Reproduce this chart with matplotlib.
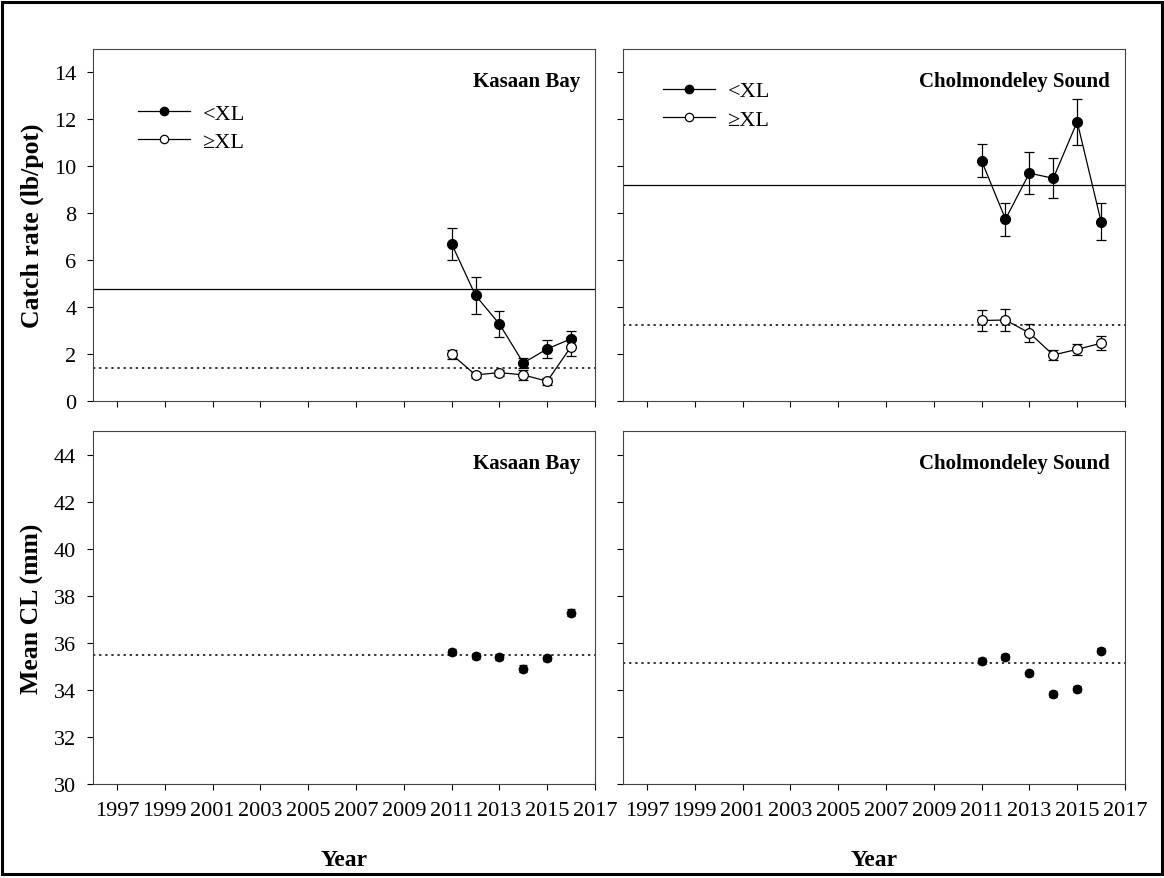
import numpy as np
import matplotlib
matplotlib.use("Agg")
import matplotlib.pyplot as plt
from matplotlib.patches import Rectangle
from matplotlib.lines import Line2D

plt.rcParams['font.family'] = ['Liberation Serif', 'DejaVu Serif']

# survey years
years = [2011, 2012, 2013, 2014, 2015, 2016]

# catch rate (lb/pot), Kasaan Bay
kb_small = [6.70, 4.50, 3.28, 1.62, 2.22, 2.65]
kb_small_err = [0.68, 0.78, 0.55, 0.20, 0.38, 0.33]
kb_large = [1.99, 1.11, 1.21, 1.11, 0.84, 2.32]
kb_large_err = [0.20, 0.14, 0.13, 0.20, 0.15, 0.42]
kb_small_mean = 4.79
kb_large_mean = 1.41

# catch rate (lb/pot), Cholmondeley Sound
cs_small = [10.24, 7.75, 9.71, 9.49, 11.90, 7.64]
cs_small_err = [0.70, 0.70, 0.88, 0.85, 0.99, 0.78]
cs_large = [3.43, 3.45, 2.90, 1.96, 2.20, 2.46]
cs_large_err = [0.44, 0.47, 0.39, 0.22, 0.24, 0.30]
cs_small_mean = 9.22
cs_large_mean = 3.23

# mean carapace length (mm)
kb_cl = [35.60, 35.45, 35.40, 34.90, 35.35, 37.27]
kb_cl_err = [0.12, 0.12, 0.12, 0.15, 0.12, 0.15]
kb_cl_mean = 35.50
cs_cl = [35.24, 35.41, 34.70, 33.82, 34.05, 35.67]
cs_cl_err = [0.12, 0.12, 0.12, 0.12, 0.12, 0.12]
cs_cl_mean = 35.13

xticks = list(range(1997, 2018, 2))

fig = plt.figure(figsize=(11.64, 8.79), dpi=100)

# outer frame
fig.patches.append(Rectangle((0.002, 0.004), 0.996, 0.993, transform=fig.transFigure,
                             fill=False, edgecolor='black', linewidth=2.2))

lx, rx, w = 0.0799, 0.5352, 0.4313
ax_tl = fig.add_axes([lx, 0.5427, w, 0.4004])
ax_tr = fig.add_axes([rx, 0.5427, w, 0.4004])
ax_bl = fig.add_axes([lx, 0.1069, w, 0.4016])
ax_br = fig.add_axes([rx, 0.1069, w, 0.4016])

lw = 0.9
ebkw = dict(elinewidth=lw, capsize=3.8, capthick=lw, ecolor='black')
dotted = (0, (1.5, 2.5))


def style(ax, ylim, yticks, ylabels, xlabels):
    ax.set_xlim(1996, 2017)
    ax.set_ylim(*ylim)
    ax.set_xticks(xticks)
    ax.set_yticks(yticks)
    ax.tick_params(direction='out', length=4, width=0.8, labelsize=16, pad=8,
                   top=False, right=False)
    if xlabels:
        ax.set_xticklabels([str(t) for t in xticks])
    else:
        ax.set_xticklabels([])
    if not ylabels:
        ax.set_yticklabels([])
    for s in ax.spines.values():
        s.set_linewidth(0.8)
        s.set_color('#444444')


def catch_panel(ax, small, small_err, large, large_err, m_small, m_large):
    ax.axhline(m_small, color='black', lw=lw)
    ax.axhline(m_large, color='black', lw=1.1, linestyle=dotted)
    ax.errorbar(years, small, yerr=small_err, fmt='-o', color='black', lw=lw,
                ms=7, mfc='black', mec='black', zorder=3, **ebkw)
    ax.errorbar(years, large, yerr=large_err, fmt='-o', color='black', lw=lw,
                ms=7, mfc='white', mec='black', mew=0.9, zorder=3, **ebkw)


catch_panel(ax_tl, kb_small, kb_small_err, kb_large, kb_large_err, kb_small_mean, kb_large_mean)
catch_panel(ax_tr, cs_small, cs_small_err, cs_large, cs_large_err, cs_small_mean, cs_large_mean)

for ax, cl, err, m in [(ax_bl, kb_cl, kb_cl_err, kb_cl_mean), (ax_br, cs_cl, cs_cl_err, cs_cl_mean)]:
    ax.axhline(m, color='black', lw=1.1, linestyle=dotted)
    ax.errorbar(years, cl, yerr=err, fmt='o', color='black', ms=6,
                mfc='black', mec='black', zorder=3, elinewidth=lw, capsize=3,
                capthick=lw, ecolor='black')

style(ax_tl, (0, 15), range(0, 15, 2), True, False)
style(ax_tr, (0, 15), range(0, 15, 2), False, False)
style(ax_bl, (30, 45), range(30, 45, 2), True, True)
style(ax_br, (30, 45), range(30, 45, 2), False, True)

# legends (plain line + marker, no error bars)
handles = [Line2D([], [], color='black', lw=lw, marker='o', ms=6, mfc='black', mec='black'),
           Line2D([], [], color='black', lw=lw, marker='o', ms=6, mfc='white', mec='black', mew=0.9)]
labels = ['<XL', '≥XL']
legkw = dict(frameon=False, fontsize=16, handlelength=2.35, handletextpad=0.55,
             labelspacing=0.36, borderaxespad=0, borderpad=0, loc='upper left')
ax_tl.legend(handles, labels, bbox_to_anchor=(0.0896, 0.8465), **legkw)
ax_tr.legend(handles, labels, bbox_to_anchor=(0.0797, 0.9095), **legkw)

# site names
for ax, name in [(ax_tl, 'Kasaan Bay'), (ax_bl, 'Kasaan Bay'),
                 (ax_tr, 'Cholmondeley Sound'), (ax_br, 'Cholmondeley Sound')]:
    ax.text(0.97, 0.91, name, transform=ax.transAxes, ha='right', va='center',
            fontsize=15, fontweight='bold')

fig.text(0.028, 0.7427, 'Catch rate (lb/pot)', rotation=90, ha='center', va='center',
         fontsize=18.5, fontweight='bold')
fig.text(0.028, 0.3077, 'Mean CL (mm)', rotation=90, ha='center', va='center',
         fontsize=18.5, fontweight='bold')
fig.text(lx + w / 2, 0.0216, 'Year', ha='center', va='center', fontsize=17, fontweight='bold')
fig.text(rx + w / 2, 0.0216, 'Year', ha='center', va='center', fontsize=17, fontweight='bold')

fig.savefig('out.png', dpi=100)
